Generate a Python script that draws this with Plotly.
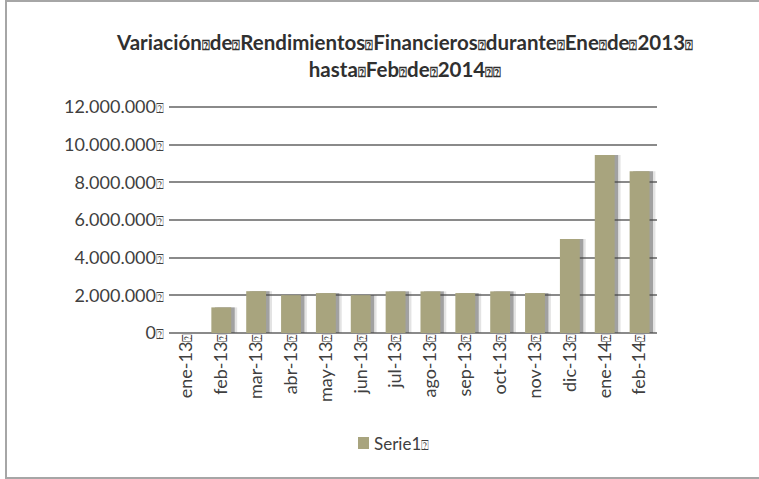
import plotly.graph_objects as go

BOX = '<span style="font-size:13px">⍰</span>'

categories = ["ene-13", "feb-13", "mar-13", "abr-13", "may-13", "jun-13", "jul-13",
              "ago-13", "sep-13", "oct-13", "nov-13", "dic-13", "ene-14", "feb-14"]
values = [0, 1360000, 2220000, 2010000, 2120000, 2010000, 2210000,
          2210000, 2120000, 2210000, 2120000, 4990000, 9450000, 8590000]
y_tick_values = [0, 2000000, 4000000, 6000000, 8000000, 10000000, 12000000]
y_tick_labels = ["0", "2.000.000", "4.000.000", "6.000.000", "8.000.000", "10.000.000", "12.000.000"]
series_name = "Serie1"
title_words_1 = ["Variación", "de", "Rendimientos", "Financieros", "durante", "Ene", "de", "2013"]
title_words_2 = ["hasta", "Feb", "de", "2014"]

W, H = 759, 479
L, R, T, B = 169, 102, 104, 146
pw, ph = W - L - R, H - T - B
BAR_COLOR = "#a8a47e"
Y_TOP = 12000000 * ph / (ph - 3)

def px_x(x):
    return (x - L) / pw

def px_y(y):
    return (H - B - y) / ph

bar_w = 0.57
off = -bar_w / 2
xs = list(range(len(categories)))

fig = go.Figure()
fig.add_trace(go.Bar(x=xs, y=values, width=bar_w, offset=off + 0.17,
                     marker=dict(color="rgba(80,80,80,0.16)", line=dict(width=0)),
                     showlegend=False, hoverinfo="skip"))
fig.add_trace(go.Bar(x=xs, y=values, width=bar_w, offset=off + 0.1,
                     marker=dict(color="rgba(70,70,70,0.42)", line=dict(width=0)),
                     showlegend=False, hoverinfo="skip"))
fig.add_trace(go.Bar(x=xs, y=values, width=bar_w, offset=off,
                     name=series_name, showlegend=False,
                     marker=dict(color=BAR_COLOR, line=dict(width=0))))

title_text = ("<b>" + BOX.join(title_words_1) + BOX + "<br>" +
              BOX.join(title_words_2) + BOX + BOX + "</b>")

fig.update_layout(
    width=W, height=H,
    margin=dict(l=L, r=R, t=T, b=B, pad=0),
    paper_bgcolor="white", plot_bgcolor="white",
    barmode="overlay",
    font=dict(family="Lato", color="#404040", size=17),
    title=dict(text=title_text, x=405 / W, xanchor="center",
               y=1 - 50 / H, yanchor="middle",
               font=dict(family="Lato", size=20.5, color="#303030")),
    showlegend=False,
    xaxis=dict(tickmode="array", tickvals=xs,
               ticktext=[c + BOX for c in categories], tickangle=-90,
               range=[-0.5, len(categories) - 0.5], showgrid=False, zeroline=False,
               showline=False, ticks="", ticklabelstandoff=-4,
               tickfont=dict(size=18, color="#404040")),
    yaxis=dict(range=[0, Y_TOP], tickmode="array", tickvals=y_tick_values,
               ticktext=[t + BOX for t in y_tick_labels], showgrid=True,
               gridcolor="#8a8a8a", gridwidth=2, zeroline=True, zerolinecolor="#8a8a8a",
               zerolinewidth=2, showline=False, ticks="", ticklabelstandoff=4,
               tickfont=dict(size=18, color="#404040")),
    shapes=[
        dict(type="rect", xref="paper", yref="paper",
             x0=px_x(6), x1=px_x(775), y0=px_y(478), y1=px_y(1),
             line=dict(color="#a6a6a6", width=2), fillcolor="rgba(0,0,0,0)", layer="below"),
        dict(type="rect", xref="paper", yref="paper",
             x0=px_x(358), x1=px_x(369), y0=px_y(449), y1=px_y(437),
             line=dict(width=0), fillcolor=BAR_COLOR),
    ],
    annotations=[
        dict(text=series_name + BOX, xref="paper", yref="paper",
             x=px_x(372), y=px_y(443), xanchor="left", yanchor="middle",
             showarrow=False, font=dict(size=17, color="#404040")),
    ],
)

fig.write_html("out.html", config={"displayModeBar": False},
               post_script="document.body.style.margin='0px';")
